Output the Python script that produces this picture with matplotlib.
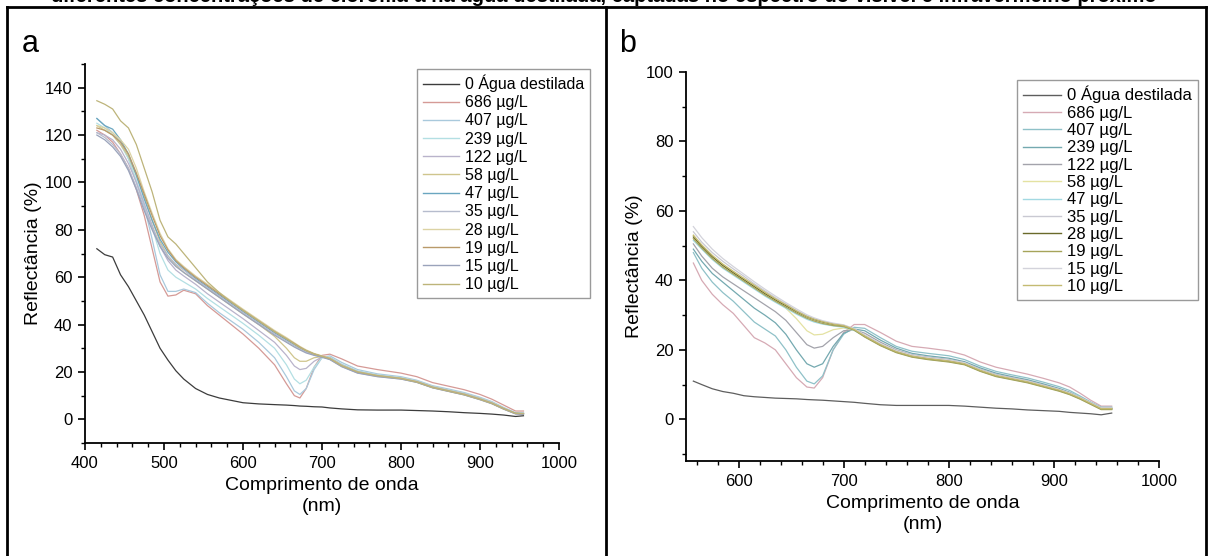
import matplotlib
matplotlib.use("Agg")
import matplotlib.pyplot as plt
from matplotlib.ticker import MultipleLocator
from matplotlib.lines import Line2D

plt.rcParams['font.family'] = ['Liberation Sans', 'DejaVu Sans']

# ---------------- data ----------------
labels = ["0 Água destilada", "686 µg/L", "407 µg/L", "239 µg/L", "122 µg/L", "58 µg/L",
          "47 µg/L", "35 µg/L", "28 µg/L", "19 µg/L", "15 µg/L", "10 µg/L"]

wl_a = [415, 425, 435, 445, 455, 465, 475, 485, 495, 505, 515, 525, 540, 555, 570, 585, 600,
        620, 640, 655, 665, 672, 680, 690, 700, 710, 725, 745, 770, 800, 820, 840, 860, 880,
        900, 915, 930, 945, 955]

a_0 = [72, 69.5, 68.5, 61, 56, 50, 44, 37, 30, 25, 20.5, 17, 13, 10.5, 9, 8, 7, 6.5, 6.2, 6,
       5.8, 5.6, 5.5, 5.3, 5.2, 4.8, 4.4, 4.0, 3.9, 3.9, 3.7, 3.5, 3.2, 2.8, 2.5, 2.2, 1.8, 1.2, 1.5]
a_686 = [122, 120, 117, 112, 106, 97, 86, 72, 58, 52, 52.5, 54.5, 53, 48, 44, 40, 36, 30, 23,
         15, 10, 9, 13, 22, 27, 27.5, 25.5, 22.5, 21, 19.5, 18, 15.5, 14, 12.5, 10.5, 8.5, 6, 3.5, 3.5]
a_407 = [127, 124, 121, 117, 110, 100, 90, 76, 61, 54, 54, 55, 53.5, 49, 45, 41.5, 38, 32.5, 26,
         18, 12, 10.5, 13, 21, 26, 26.8, 24, 21, 19.2, 18, 16.5, 14.2, 12.8, 11.3, 9.3, 7.5, 5, 2.8, 2.8]
a_239 = [125, 123, 120, 116, 110, 101, 91, 81, 70, 63, 60, 58, 55, 51, 47.5, 44, 40.5, 35.5, 30,
         23, 17, 15, 16.5, 22, 26, 26.3, 23.3, 20.5, 18.8, 17.6, 16.2, 13.9, 12.4, 11, 9, 7.2, 4.8, 2.6, 2.6]
a_122 = [121, 120, 118, 114, 108, 100, 91, 82, 73, 67, 63, 60.5, 57, 53, 49.5, 46, 42.5, 37.5, 32.5,
         27, 22.5, 21, 21.5, 24.5, 26.3, 26, 23, 20.2, 18.6, 17.4, 16, 13.7, 12.2, 10.8, 8.8, 7, 4.6, 2.5, 2.5]
a_58 = [124, 122, 120, 116, 111, 103, 94, 84, 75, 69, 65, 62, 58.5, 55, 51.5, 48, 44.5, 40, 35,
        30, 26, 24.5, 24.5, 26, 26.5, 25.8, 22.8, 20, 18.4, 17.2, 15.8, 13.5, 12, 10.6, 8.6, 6.8, 4.5, 2.4, 2.4]
a_47 = [127, 124, 122.5, 118, 112, 103, 93, 84, 76, 70.5, 66.5, 63.5, 59.5, 56, 52.5, 49, 45.5, 41,
        36.5, 33.5, 31.5, 30, 28.7, 27.3, 26.4, 25.5, 22.6, 19.9, 18.4, 17.3, 15.9, 13.6, 12.1, 10.6,
        8.6, 6.9, 4.6, 2.6, 2.4]
a_35 = [121, 119, 116, 112, 106, 98, 89, 81, 74, 69, 65.5, 63, 59, 55.5, 52, 48.5, 45, 40.5, 36,
        33, 31, 29.7, 28.4, 27.2, 26.4, 25.3, 22.3, 19.6, 18.1, 17, 15.6, 13.3, 11.8, 10.3, 8.3,
        6.6, 4.3, 2.3, 2.2]
a_28 = [124, 123, 121, 118, 114, 106, 96, 87, 78.5, 72, 67.5, 64.5, 60.5, 57, 53.5, 50, 46.5, 42,
        37.5, 34.5, 32.3, 30.8, 29.3, 27.8, 26.8, 25.7, 22.7, 20, 18.5, 17.4, 16, 13.7, 12.2, 10.7,
        8.7, 7, 4.7, 2.6, 2.5]
a_19 = [123, 122, 120, 117, 112, 104, 95, 86, 77.5, 71.5, 67, 64, 60, 56.5, 53, 49.5, 46, 41.5,
        37, 34, 32, 30.5, 29, 27.6, 26.6, 25.5, 22.5, 19.8, 18.3, 17.2, 15.8, 13.5, 12, 10.5, 8.5,
        6.8, 4.5, 2.5, 2.3]
a_15 = [120, 118, 115, 111, 105, 97, 88, 80, 73, 68, 64.5, 62, 58.5, 55, 51.5, 48, 44.5, 40, 35.5,
        32.5, 30.5, 29.3, 28, 27, 26.2, 25.2, 22.2, 19.5, 18, 17, 15.6, 13.3, 11.8, 10.3, 8.3, 6.6,
        4.3, 2.3, 2.1]
a_10 = [134.5, 133, 131, 126, 123, 116, 106, 96, 84, 77, 74, 70, 64, 58, 53.5, 49.5, 46, 41.5, 37,
        34, 31.8, 30.3, 29, 27.6, 26.6, 25.6, 22.6, 20, 18.4, 17.2, 15.7, 13.4, 11.9, 10.4, 8.4,
        6.7, 4.4, 2.5, 2.4]

wl_b = [557, 565, 575, 585, 595, 605, 615, 625, 635, 645, 655, 665, 672, 680, 690, 700, 710,
        720, 735, 750, 765, 780, 800, 815, 830, 845, 860, 875, 890, 905, 915, 925, 935, 945, 955]

b_0 = [11, 10, 8.8, 8, 7.5, 6.8, 6.5, 6.3, 6.1, 6, 5.9, 5.7, 5.6, 5.5, 5.3, 5.1, 4.9, 4.6, 4.2,
       4, 4, 4, 4, 3.8, 3.5, 3.2, 3, 2.7, 2.5, 2.3, 2, 1.8, 1.6, 1.3, 1.8]
b_686 = [45, 40, 36, 33, 30.5, 27, 23.5, 22, 20, 16, 12, 9.3, 9, 12, 20, 25, 27.3, 27.3, 25, 22.5,
         21, 20.5, 19.7, 18.5, 16.5, 15, 14, 13, 11.8, 10.5, 9.3, 7.5, 5.5, 3.8, 3.8]
b_407 = [48, 43.5, 39.5, 36.5, 34, 31, 28, 26, 24, 20, 15, 11, 10.2, 12.5, 20, 24.5, 26.5, 26.2,
         23.5, 21, 19.6, 19, 18.3, 17.2, 15.3, 13.8, 12.8, 11.9, 10.7, 9.4, 8.3, 6.7, 5, 3.5, 3.5]
b_239 = [49, 45.5, 42, 39.5, 37, 34.5, 32, 30, 27.8, 24.5, 20, 16, 15, 16, 21, 24.8, 26, 25.5,
         22.8, 20.5, 19, 18.3, 17.6, 16.6, 14.8, 13.3, 12.3, 11.4, 10.2, 8.9, 7.8, 6.3, 4.7, 3.2, 3.2]
b_122 = [50.5, 47, 43.5, 41, 39, 37, 35, 33, 31, 28.5, 25, 21.5, 20.5, 21, 23.5, 25.5, 25.8, 24.8,
         22.2, 20, 18.6, 17.9, 17.2, 16.3, 14.4, 12.9, 12, 11.1, 9.9, 8.6, 7.6, 6.1, 4.6, 3.1, 3.1]
b_58 = [53, 50, 47, 44.5, 42.5, 40.5, 38.5, 36.5, 34.5, 32, 29, 25.5, 24.3, 24.5, 25.8, 26.3, 25.6,
        24, 21.5, 19.4, 18.1, 17.4, 16.7, 15.9, 14, 12.5, 11.6, 10.7, 9.5, 8.3, 7.3, 6, 4.5, 3, 3]
b_47 = [51.5, 49, 46, 43.5, 41.5, 39.5, 37.5, 35.5, 33.7, 32, 30.3, 28.8, 28, 27.4, 26.9, 26.5,
        25.6, 23.8, 21.3, 19.3, 18, 17.3, 16.6, 15.8, 13.9, 12.4, 11.5, 10.6, 9.4, 8.2, 7.2, 5.9,
        4.4, 2.9, 2.9]
b_35 = [54, 51, 48, 45.5, 43.3, 41.2, 39, 37, 35, 33.2, 31.4, 29.8, 29, 28.2, 27.5, 27.1, 26, 24.2,
        21.7, 19.7, 18.4, 17.7, 17, 16.2, 14.2, 12.7, 11.8, 10.9, 9.7, 8.5, 7.5, 6.2, 4.7, 3.2, 3.2]
b_28 = [52.5, 49.8, 46.8, 44.3, 42.2, 40.2, 38.2, 36.2, 34.4, 32.7, 31, 29.5, 28.7, 28, 27.3,
        26.9, 25.8, 23.9, 21.4, 19.4, 18.1, 17.4, 16.7, 15.9, 14, 12.5, 11.6, 10.7, 9.5, 8.3, 7.3,
        6, 4.5, 3, 3]
b_19 = [52, 49.3, 46.3, 43.8, 41.8, 39.8, 37.8, 35.8, 34, 32.3, 30.6, 29.1, 28.3, 27.6, 27, 26.7,
        25.7, 23.7, 21.2, 19.2, 17.9, 17.2, 16.5, 15.7, 13.8, 12.3, 11.4, 10.5, 9.3, 8.1, 7.1, 5.8,
        4.3, 2.8, 2.8]
b_15 = [55.5, 52.3, 49, 46.3, 44, 41.8, 39.6, 37.5, 35.5, 33.6, 31.8, 30.1, 29.2, 28.4, 27.7,
        27.2, 26.1, 24.3, 21.8, 19.8, 18.5, 17.8, 17.1, 16.3, 14.3, 12.8, 11.9, 11, 9.8, 8.6, 7.6,
        6.3, 4.8, 3.3, 3.3]
b_10 = [53, 50.2, 47.2, 44.7, 42.6, 40.6, 38.6, 36.6, 34.7, 33, 31.2, 29.6, 28.8, 28.1, 27.4, 27,
        25.9, 24, 21.5, 19.5, 18.2, 17.5, 16.8, 16, 14.1, 12.6, 11.7, 10.8, 9.6, 8.4, 7.4, 6.1, 4.6,
        3.1, 3.1]

series_a = [a_0, a_686, a_407, a_239, a_122, a_58, a_47, a_35, a_28, a_19, a_15, a_10]
series_b = [b_0, b_686, b_407, b_239, b_122, b_58, b_47, b_35, b_28, b_19, b_15, b_10]

colors_a = ['#3c3c3c', '#d59a96', '#a9c9dc', '#b3dfe3', '#b9b3cb', '#cfc58d', '#6aa6c0',
            '#b6bccd', '#dcd3a4', '#b99a6a', '#9aa3bb', '#bdb47a']
colors_b = ['#5e5e5e', '#d6aab4', '#8fc1c8', '#74a9b0', '#a3a3ab', '#e4e2a2', '#a3d9e2',
            '#c9c9d2', '#6a6a2a', '#a6a45a', '#d3d3db', '#c4bb72']

# ---------------- figure ----------------
W, H = 1208, 556
fig = plt.figure(figsize=(W / 100, H / 100), dpi=100)


def fx(px):
    return px / W


def fy(py):
    return 1 - py / H


def style_axes(ax):
    for s in ['top', 'right']:
        ax.spines[s].set_visible(False)
    for s in ['left', 'bottom']:
        ax.spines[s].set_linewidth(1.3)
    ax.tick_params(which='major', direction='out', length=5, width=1.2, labelsize=12, pad=4)
    ax.tick_params(which='minor', direction='out', length=3, width=1.0)
    ax.set_xlabel("Comprimento de onda\n(nm)", fontsize=14, labelpad=5, linespacing=1.25)
    ax.set_ylabel("Reflectância (%)", fontsize=14, labelpad=2)


# panel a
ax1 = fig.add_axes([fx(85), fy(443), fx(559) - fx(85), fy(64) - fy(443)])
for y, c, lab in zip(series_a, colors_a, labels):
    ax1.plot(wl_a, y, color=c, lw=0.9, label=lab)
ax1.set_xlim(400, 1000)
ax1.set_ylim(-10, 150)
ax1.xaxis.set_major_locator(MultipleLocator(100))
ax1.xaxis.set_minor_locator(MultipleLocator(20))
ax1.yaxis.set_minor_locator(MultipleLocator(10))
ax1.set_yticks([0, 20, 40, 60, 80, 100, 120, 140])
style_axes(ax1)

# panel b
ax2 = fig.add_axes([fx(686), fy(461), fx(1159) - fx(686), fy(72) - fy(461)])
for y, c, lab in zip(series_b, colors_b, labels):
    ax2.plot(wl_b, y, color=c, lw=0.9, label=lab)
ax2.set_xlim(550, 1000)
ax2.set_ylim(-12, 100)
ax2.xaxis.set_major_locator(MultipleLocator(100))
ax2.xaxis.set_minor_locator(MultipleLocator(20))
ax2.yaxis.set_minor_locator(MultipleLocator(10))
ax2.set_yticks([0, 20, 40, 60, 80, 100])
style_axes(ax2)


def add_legend(ax, colors, x, y, fs, spacing):
    handles = [Line2D([], [], color=c, lw=1.0) for c in colors]
    leg = ax.legend(handles, labels, loc='upper left', bbox_to_anchor=(fx(x), fy(y)),
                    bbox_transform=fig.transFigure, borderaxespad=0, fontsize=fs,
                    frameon=True, fancybox=False, edgecolor='#9a9a9a', framealpha=1,
                    handlelength=2.3, handletextpad=0.35, labelspacing=spacing,
                    borderpad=0.35)
    leg.get_frame().set_linewidth(1.0)


add_legend(ax1, colors_a, 417, 69, 11.5, 0.2)
add_legend(ax2, colors_b, 1017, 80, 12, 0.14)

# panel letters
fig.text(fx(22), fy(52), "a", fontsize=22, ha='left', va='baseline')
fig.text(fx(619), fy(52), "b", fontsize=22, ha='left', va='baseline')

# table borders
lw = 2.0
for (x0, y0, x1, y1) in [(7, 7, 1206, 7), (7, 7, 7, 560), (606, 7, 606, 560), (1206, 7, 1206, 560)]:
    fig.add_artist(Line2D([fx(x0), fx(x1)], [fy(y0), fy(y1)], color='black', lw=lw,
                          transform=fig.transFigure, solid_capstyle='projecting'))

# clipped caption at the very top (cut off in the reference as well)
fig.text(0.5, fy(2.5), "diferentes concentrações de clorofila-a na água destilada, captadas no espectro do visível e infravermelho próximo",
         fontsize=14.5, fontweight='bold', ha='center', va='baseline')

fig.savefig("out.png", dpi=100)
